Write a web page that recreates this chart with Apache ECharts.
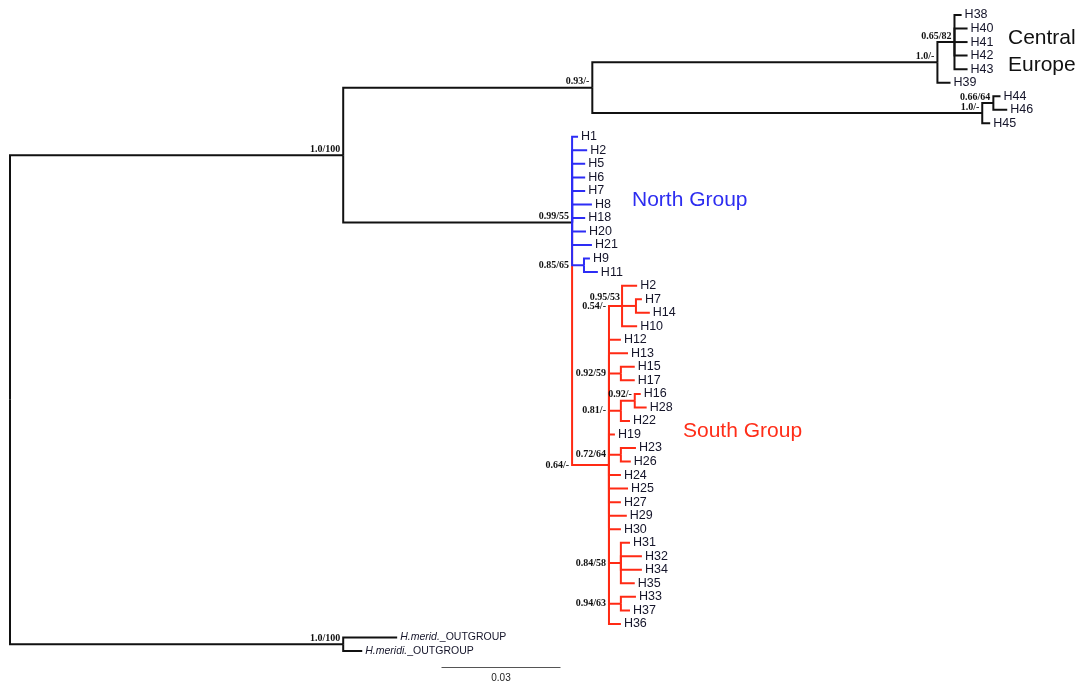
<!DOCTYPE html>
<html>
<head>
<meta charset="utf-8">
<script src="https://cdn.jsdelivr.net/npm/echarts@6/dist/echarts.min.js"></script>
<style>
  html, body { margin: 0; padding: 0; background: #ffffff; }
  #chart { width: 1083px; height: 684px; }
</style>
</head>
<body>
<div id="chart"></div>
<script>
// Haplotype tree, one Newick string per clade.
// Branch lengths are substitutions/site; internal labels are posterior / bootstrap support.
const centralEurope =
  "(((H38:0.0018,H40:0.0033,H41:0.0033,H42:0.0033,H43:0.0033)0.65/82:0.0043,H39:0.0033)1.0/-:0.087," +
  "((H44:0.0018,H46:0.0035)0.66/64:0.0028,H45:0.002)1.0/-:0.0983)0.93/-:0.0628";

const southGroup =
  "((H2:0.0038,(H7:0.0015,H14:0.0035)0.95/53:0.0035,H10:0.0038)0.54/-:0.0033," +
  "H12:0.003,H13:0.0048,(H15:0.0035,H17:0.0035)0.92/59:0.003," +
  "((H16:0.0015,H28:0.003)0.92/-:0.0035,H22:0.0023)0.81/-:0.003," +
  "H19:0.0015,(H23:0.0038,H26:0.0025)0.72/64:0.003," +
  "H24:0.003,H25:0.0048,H27:0.003,H29:0.0045,H30:0.003," +
  "(H31:0.0023,H32:0.0053,H34:0.0053,H35:0.0035)0.84/58:0.003," +
  "(H33:0.0038,H37:0.0023)0.94/63:0.003,H36:0.003)0.64/-:0.0093";

const northGroup =
  "(H1:0.0015,H2:0.0038,H5:0.0033,H6:0.0033,H7:0.0033,H8:0.005,H18:0.0033,H20:0.0035,H21:0.005," +
  "(H9:0.0015,H11:0.0035)0.85/65:0.003," + southGroup + ")0.99/55:0.0577";

const outgroup = "(H.merid._OUTGROUP:0.0136,H.meridi._OUTGROUP:0.0048)1.0/100:0.084";

const treeNewick = "((" + centralEurope + "," + northGroup + ")1.0/100:0.084," + outgroup + ");";

const scaleBarLength = 0.03;
const groupLabels = ["North Group", "South Group", "Central", "Europe"];

// ---- Newick parsing -------------------------------------------------------
function parseNewick(s) {
  let i = 0;
  const readToken = () => {
    const st = i;
    while (i < s.length && "(),:;".indexOf(s[i]) < 0) i++;
    return s.slice(st, i);
  };
  const readNode = () => {
    const n = { children: [], name: "", len: 0 };
    if (s[i] === "(") {
      i++;
      n.children.push(readNode());
      while (s[i] === ",") { i++; n.children.push(readNode()); }
      i++;
    }
    n.name = readToken();
    if (s[i] === ":") { i++; n.len = parseFloat(readToken()); }
    return n;
  };
  return readNode();
}

// ---- Layout: tips on consecutive rows, internal nodes at mean of children ----
const root = parseNewick(treeNewick);
const tips = [];
const internals = [];
let nextRow = 0;
function layout(n, depth, parent) {
  n.parent = parent;
  n.x = depth + n.len;
  if (!n.children.length) {
    n.y = nextRow++;
    tips.push(n);
  } else {
    n.children.forEach(c => layout(c, n.x, n));
    n.y = n.children.reduce((s, c) => s + c.y, 0) / n.children.length;
    internals.push(n);
  }
}
layout(root, 0, null);

// Clade colouring: the north clade is blue below its stem, the south clade red including its stem
function paint(n, key) {
  n.key = key;
  n.children.forEach(c => {
    let k = key;
    if (c.name === "0.64/-") k = "south";
    else if (n.name === "0.99/55") k = "north";
    paint(c, k);
  });
}
paint(root, "base");

const palette = { base: "#111111", north: "#2d2df5", south: "#ff2a14" };

// Branches as elbows: parent vertical then child horizontal (reverse order so upper siblings sit on top)
const branches = [];
(function collect(n) {
  n.children.slice().reverse().forEach(c => {
    branches.push({ x0: n.x, y0: n.y, x1: c.x, y1: c.y, key: c.key });
  });
  n.children.forEach(collect);
})(root);

// Support values: placement of each label around its node
function supportPlacement(n) {
  const p = n.parent;
  if (p && p.name === "0.54/-") return "parentAbove";
  if (p && (p.name === "0.99/55" || p.name === "0.64/-")) return "parentCenter";
  return "nodeAbove";
}
const supports = internals.filter(n => n.name && n.parent);

const rowCount = tips.length - 1;
const xMax = 0.2705;

const chart = echarts.init(document.getElementById("chart"), null, { renderer: "canvas" });

const option = {
  animation: false,
  backgroundColor: "#ffffff",
  grid: { left: 10, right: 0, top: 15, bottom: 33 },
  xAxis: { type: "value", min: 0, max: xMax, show: false },
  yAxis: { type: "value", min: 0, max: rowCount, inverse: true, show: false },
  series: [
    {
      type: "custom",
      name: "branches",
      data: branches.map(b => [b.x0, b.y0, b.x1, b.y1]),
      encode: { x: [0, 2], y: [1, 3] },
      silent: true,
      renderItem(params, api) {
        const b = branches[params.dataIndex];
        const a = api.coord([b.x0, b.y0]);
        const m = api.coord([b.x0, b.y1]);
        const e = api.coord([b.x1, b.y1]);
        return {
          type: "polyline",
          shape: { points: [a, m, e] },
          style: { stroke: palette[b.key], lineWidth: 2, fill: null, lineJoin: "miter", lineCap: "butt" }
        };
      }
    },
    {
      type: "custom",
      name: "tips",
      data: tips.map(t => [t.x, t.y]),
      encode: { x: 0, y: 1 },
      silent: true,
      renderItem(params, api) {
        const t = tips[params.dataIndex];
        const p = api.coord([t.x, t.y]);
        const m = /^(H\.[a-z]+\.)(.*)$/.exec(t.name);
        const isOut = !!m;
        return {
          type: "text",
          x: p[0] + 3,
          y: p[1],
          style: {
            text: isOut ? "{i|" + m[1] + "}" + m[2] : t.name,
            fill: "#15152a",
            fontSize: isOut ? 10.5 : 12.5,
            fontFamily: "Liberation Sans, Arial, sans-serif",
            textAlign: "left",
            textVerticalAlign: "middle",
            rich: isOut ? { i: { fontStyle: "italic", fontSize: 10.5, fontFamily: "Liberation Sans, Arial, sans-serif", fill: "#15152a" } } : undefined
          }
        };
      }
    },
    {
      type: "custom",
      name: "support",
      data: supports.map(n => [n.x, n.y]),
      encode: { x: 0, y: 1 },
      silent: true,
      renderItem(params, api) {
        const n = supports[params.dataIndex];
        const mode = supportPlacement(n);
        const node = api.coord([n.x, n.y]);
        const par = api.coord([n.parent.x, n.y]);
        let x, y;
        if (mode === "parentCenter") { x = par[0] - 3; y = node[1]; }
        else if (mode === "parentAbove") { x = par[0] - 2; y = node[1] - 9; }
        else { x = node[0] - 3; y = node[1] - 6; }
        return {
          type: "text",
          x: x,
          y: y,
          style: {
            text: n.name,
            fill: "#111111",
            fontSize: 10,
            fontWeight: "bold",
            fontFamily: "Liberation Serif, Times New Roman, serif",
            textAlign: "right",
            textVerticalAlign: "middle"
          }
        };
      }
    },
    {
      type: "custom",
      name: "scale",
      data: [[scaleBarLength, rowCount]],
      encode: { x: 0, y: 1 },
      silent: true,
      renderItem(params, api) {
        const len = api.coord([scaleBarLength, 0])[0] - api.coord([0, 0])[0];
        const x0 = 441.5;
        const y0 = api.coord([0, rowCount])[1] + 16;
        return {
          type: "group",
          children: [
            { type: "line", shape: { x1: x0, y1: y0 + 0.5, x2: x0 + len, y2: y0 + 0.5 }, style: { stroke: "#555555", lineWidth: 1 } },
            {
              type: "text", x: x0 + len / 2, y: y0 + 11,
              style: { text: String(scaleBarLength), fill: "#222222", fontSize: 10, fontFamily: "Liberation Sans, Arial, sans-serif", textAlign: "center", textVerticalAlign: "middle" }
            }
          ]
        };
      }
    }
  ],
  graphic: [
    { type: "text", x: 632, y: 200, style: { text: groupLabels[0], fill: "#2d2df0", fontSize: 21, fontFamily: "Liberation Sans, Arial, sans-serif", textVerticalAlign: "middle" } },
    { type: "text", x: 683, y: 431, style: { text: groupLabels[1], fill: "#ff2d18", fontSize: 21, fontFamily: "Liberation Sans, Arial, sans-serif", textVerticalAlign: "middle" } },
    { type: "text", x: 1008, y: 38, style: { text: groupLabels[2], fill: "#111111", fontSize: 21, fontFamily: "Liberation Sans, Arial, sans-serif", textVerticalAlign: "middle" } },
    { type: "text", x: 1008, y: 65, style: { text: groupLabels[3], fill: "#111111", fontSize: 21, fontFamily: "Liberation Sans, Arial, sans-serif", textVerticalAlign: "middle" } }
  ]
};

chart.setOption(option);
</script>
</body>
</html>
